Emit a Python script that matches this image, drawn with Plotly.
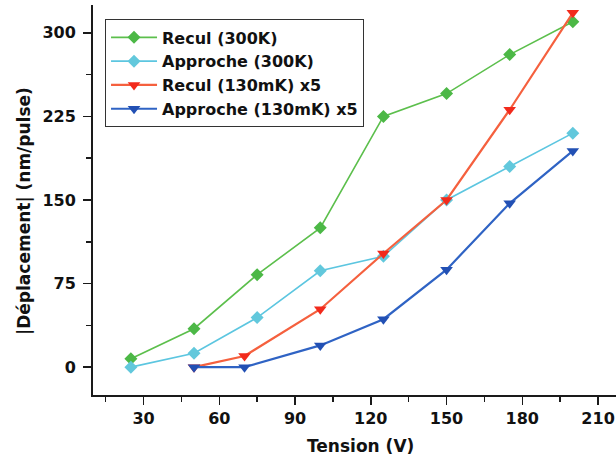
import plotly.graph_objects as go

# Data
tension_300k = [25, 50, 75, 100, 125, 150, 175, 200]
recul_300k = [7.5, 34.5, 83, 125, 225, 245.5, 280.5, 310]
approche_300k = [0, 12.5, 44.5, 86.5, 99.5, 150, 180, 210]

tension_130mk = [50, 70, 100, 125, 150, 175, 200]
recul_130mk_x5 = [0, 10, 52, 102, 150, 231, 318]
approche_130mk_x5 = [0, 0, 19.5, 43, 87.5, 147, 194]

series_names = ["Recul (300K)", "Approche (300K)", "Recul (130mK) x5", "Approche (130mK) x5"]
x_ticks = [30, 60, 90, 120, 150, 180, 210]
y_ticks = [0, 75, 150, 225, 300]

FONT = "DejaVu Sans"
X_RANGE = [10, 217.1]
Y_RANGE = [-25, 325]

fig = go.Figure()
fig.add_trace(go.Scatter(x=tension_300k, y=recul_300k, name=series_names[0], mode="lines+markers",
                         line=dict(color="#5cbf4c", width=1.6),
                         marker=dict(symbol="diamond", size=10, color="#4cb846")))
fig.add_trace(go.Scatter(x=tension_300k, y=approche_300k, name=series_names[1], mode="lines+markers",
                         line=dict(color="#5cc6e0", width=1.6),
                         marker=dict(symbol="diamond", size=10, color="#62c8dc")))
fig.add_trace(go.Scatter(x=tension_130mk, y=recul_130mk_x5, name=series_names[2], mode="lines+markers",
                         line=dict(color="#f5603e", width=2.2),
                         marker=dict(symbol="triangle-down", size=11, color="#f22a1c")))
fig.add_trace(go.Scatter(x=tension_130mk, y=approche_130mk_x5, name=series_names[3], mode="lines+markers",
                         line=dict(color="#2f63c4", width=2.2),
                         marker=dict(symbol="triangle-down", size=11, color="#2250b4")))

tickfont = dict(family=FONT, size=16, color="#111", weight="bold")
axis_color = "#1a1a1a"

fig.update_layout(
    width=616, height=464,
    margin=dict(l=93, r=0, t=5, b=69),
    paper_bgcolor="white", plot_bgcolor="white",
    showlegend=True,
    hovermode=False,
    legend=dict(x=0.023, y=0.963, xanchor="left", yanchor="top",
                bgcolor="white", bordercolor="#333", borderwidth=1,
                font=dict(family=FONT, size=16, color="#111", weight="bold"),
                itemwidth=46, tracegroupgap=0),
    xaxis=dict(range=X_RANGE, tickmode="array", tickvals=x_ticks, ticktext=[str(v) for v in x_ticks],
               showgrid=False, zeroline=False, showline=True, linewidth=2, linecolor=axis_color,
               ticks="outside", ticklen=8, tickwidth=1.5, tickcolor=axis_color, tickfont=tickfont,
               minor=dict(tickmode="array", tickvals=[15, 45, 75, 105, 135, 165, 195],
                          ticks="outside", ticklen=5, tickwidth=1.5, tickcolor=axis_color, showgrid=False)),
    yaxis=dict(range=Y_RANGE, tickmode="array", tickvals=y_ticks, ticktext=[str(v) for v in y_ticks],
               showgrid=False, zeroline=False, showline=True, linewidth=2, linecolor=axis_color,
               ticks="outside", ticklen=8, tickwidth=1.5, tickcolor=axis_color, tickfont=tickfont,
               ticklabelstandoff=4,
               minor=dict(tickmode="array", tickvals=[37.5, 112.5, 187.5, 262.5],
                          ticks="outside", ticklen=5, tickwidth=1.5, tickcolor=axis_color, showgrid=False)),
    xaxis2=dict(range=X_RANGE, overlaying="x", side="top", anchor="y",
                tickmode="array", tickvals=x_ticks, showticklabels=False,
                showgrid=False, zeroline=False, showline=True, linewidth=2, linecolor=axis_color,
                ticks="inside", ticklen=8, tickwidth=1.5, tickcolor=axis_color,
                minor=dict(tickmode="array", tickvals=[15, 45, 75, 105, 135, 165, 195],
                           ticks="inside", ticklen=6, tickwidth=1.5, tickcolor=axis_color, showgrid=False)),
    yaxis2=dict(range=Y_RANGE, overlaying="y", side="right", anchor="x",
                tickmode="array", tickvals=y_ticks, showticklabels=False,
                showgrid=False, zeroline=False, showline=False,
                ticks="inside", ticklen=3, tickwidth=1.5, tickcolor="#888",
                minor=dict(tickmode="array", tickvals=[37.5, 112.5, 187.5, 262.5],
                           ticks="inside", ticklen=3, tickwidth=1.5, tickcolor="#888", showgrid=False)),
    annotations=[
        dict(text="|Déplacement| (nm/pulse)", textangle=-90,
             xref="paper", yref="paper", x=(24 - 93) / 523, y=(395 - 211) / 390,
             xanchor="center", yanchor="middle", showarrow=False,
             font=dict(family=FONT, size=17, color="#111", weight="bold")),
        dict(text="Tension (V)",
             xref="paper", yref="paper", x=(360 - 93) / 523, y=(395 - 446) / 390,
             xanchor="center", yanchor="middle", showarrow=False,
             font=dict(family=FONT, size=17, color="#111", weight="bold")),
    ],
)

# remove the browser's default 8px page margin so the figure sits at the window's top-left corner
fig.write_html("out.html", config={"displayModeBar": False, "staticPlot": True},
               post_script="document.body.style.margin='0';document.body.style.overflow='hidden';")
